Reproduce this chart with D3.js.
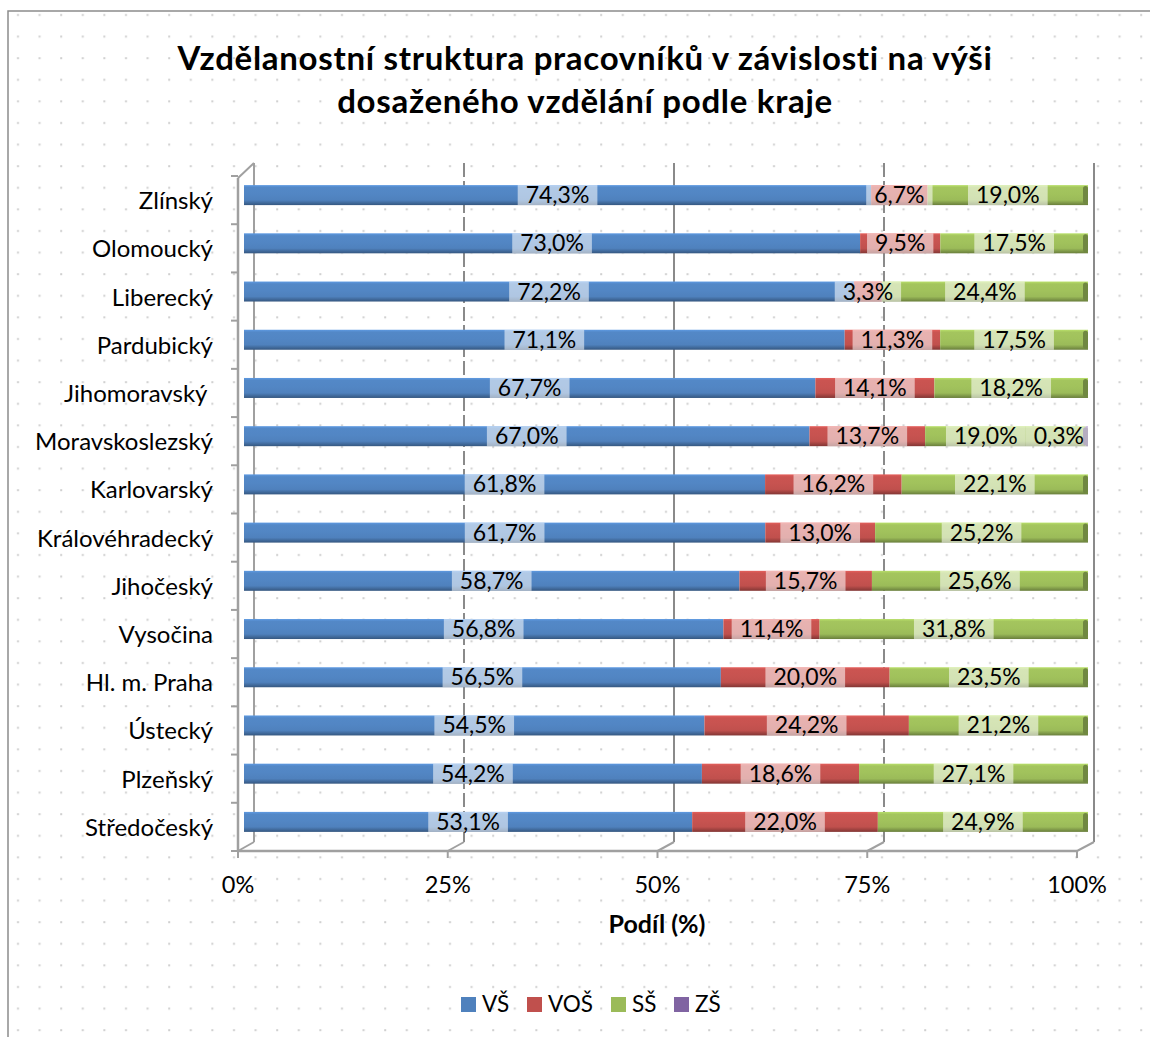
<!DOCTYPE html>
<html lang="cs">
<head>
<meta charset="utf-8">
<title>Vzdělanostní struktura pracovníků</title>
<script src="https://cdn.jsdelivr.net/npm/d3@7"></script>
<style>
    html, body { margin: 0; padding: 0; background: #fff; }
    svg { display: block; font-family: Lato, "Open Sans", sans-serif; }
</style>
</head>
<body>
<svg id="chart" width="1150" height="1037"></svg>
<script>
// ============================================================
// DATA
// ============================================================
const regions = [
    "Zlínský", "Olomoucký", "Liberecký", "Pardubický", "Jihomoravský ",
    "Moravskoslezský", "Karlovarský", "Královéhradecký", "Jihočeský",
    "Vysočina", "Hl. m. Praha", "Ústecký", "Plzeňský", "Středočeský"
];
const seriesNames = ["VŠ", "VOŠ", "SŠ", "ZŠ"];
const vs  = [74.3, 73.0, 72.2, 71.1, 67.7, 67.0, 61.8, 61.7, 58.7, 56.8, 56.5, 54.5, 54.2, 53.1];
const vos = [6.7, 9.5, 3.3, 11.3, 14.1, 13.7, 16.2, 13.0, 15.7, 11.4, 20.0, 24.2, 18.6, 22.0];
const ss  = [19.0, 17.5, 24.4, 17.5, 18.2, 19.0, 22.1, 25.2, 25.6, 31.8, 23.5, 21.2, 27.1, 24.9];
const zs  = [0, 0, 0, 0, 0, 0.3, 0, 0, 0, 0, 0, 0, 0, 0];
const xTicks = [0, 0.25, 0.5, 0.75, 1];

const colors = ["#4F81BD", "#C0504D", "#9BBB59", "#8064A2"];

const rows = regions.map((r, i) => ({ region: r, values: [vs[i], vos[i], ss[i], zs[i]] }));

// ============================================================
// SVG / POZADÍ
// ============================================================
const svg = d3.select("#chart");
const defs = svg.append("defs");

const dots = defs.append("pattern")
    .attr("id", "dots")
    .attr("patternUnits", "userSpaceOnUse")
    .attr("x", 7).attr("y", 4)
    .attr("width", 21.6).attr("height", 21.6);
dots.append("rect")
    .attr("x", 10).attr("y", 10)
    .attr("width", 2).attr("height", 2)
    .attr("fill", "#cfcfcf");

svg.append("rect")
    .attr("width", 1150).attr("height", 1037)
    .attr("fill", "#fff");
svg.append("rect")
    .attr("x", 8).attr("y", 11)
    .attr("width", 1200).attr("height", 1100)
    .attr("fill", "url(#dots)")
    .attr("stroke", "#8c8c8c")
    .attr("stroke-width", 1.5);

// gradienty pro "3D" válcové pruhy
colors.forEach((c, i) => {
    const g = defs.append("linearGradient")
        .attr("id", "grad" + i)
        .attr("x1", 0).attr("y1", 0).attr("x2", 0).attr("y2", 1);
    const base = d3.color(c);
    g.append("stop").attr("offset", "0%").attr("stop-color", base.brighter(0.5));
    g.append("stop").attr("offset", "12%").attr("stop-color", base.brighter(0.15));
    g.append("stop").attr("offset", "45%").attr("stop-color", base.brighter(0.1));
    g.append("stop").attr("offset", "75%").attr("stop-color", base);
    g.append("stop").attr("offset", "100%").attr("stop-color", base.darker(1.1));
});

// ============================================================
// ŠKÁLY
// ============================================================
const plotTop = 163;
const floorBack = 842;
const floorFront = 851;

const xFront = d3.scaleLinear().domain([0, 1]).range([238, 1077]);
const xBack = d3.scaleLinear().domain([0, 1]).range([254, 1094]);
const xBar = d3.scaleLinear().domain([0, 1]).range([244, 1088]);
const y = d3.scaleBand().domain(regions).range([176, floorFront]);

const barH = 20;
const barY = (d) => y(d) + y.bandwidth() / 2 - 5 - barH / 2;

// ============================================================
// STĚNY / MŘÍŽKA
// ============================================================
const gridColor = "#8a8a8a";
const axisColor = "#a0a0a0";
const grid = svg.append("g");

xTicks.forEach((t) => {
    const dashed = t === 0.25 || t === 0.75;
    if (t > 0) {
        grid.append("line")
            .attr("x1", xBack(t)).attr("x2", xBack(t))
            .attr("y1", plotTop).attr("y2", floorBack)
            .attr("stroke", gridColor)
            .attr("stroke-width", 2)
            .attr("stroke-dasharray", dashed ? "14,4" : null);
    }
    // diagonála na podlaze
    grid.append("line")
        .attr("x1", xBack(t)).attr("y1", floorBack)
        .attr("x2", xFront(t)).attr("y2", floorFront)
        .attr("stroke", axisColor)
        .attr("stroke-width", 2);
});

// levá stěna
grid.append("line")
    .attr("x1", xBack(0)).attr("x2", xBack(0))
    .attr("y1", plotTop).attr("y2", floorBack)
    .attr("stroke", axisColor).attr("stroke-width", 2);
grid.append("line")
    .attr("x1", xFront(0)).attr("y1", 178)
    .attr("x2", xBack(0)).attr("y2", plotTop)
    .attr("stroke", axisColor).attr("stroke-width", 2);
grid.append("line")
    .attr("x1", xFront(0)).attr("x2", xFront(0))
    .attr("y1", 178).attr("y2", floorFront)
    .attr("stroke", axisColor).attr("stroke-width", 2.5);

// přední osa x
grid.append("line")
    .attr("x1", xFront(0)).attr("x2", xFront(1))
    .attr("y1", floorFront).attr("y2", floorFront)
    .attr("stroke", axisColor).attr("stroke-width", 2.5);

grid.selectAll("line.xtick")
    .data(xTicks)
    .enter()
    .append("line")
    .attr("class", "xtick")
    .attr("x1", (d) => xFront(d)).attr("x2", (d) => xFront(d))
    .attr("y1", floorFront).attr("y2", floorFront + 7)
    .attr("stroke", axisColor).attr("stroke-width", 2);

// tiky osy y (hranice kategorií)
const yBounds = regions.map((r) => y(r)).concat([floorFront]);
grid.selectAll("line.ytick")
    .data(yBounds)
    .enter()
    .append("line")
    .attr("class", "ytick")
    .attr("x1", xFront(0) - 7).attr("x2", xFront(0))
    .attr("y1", (d) => d).attr("y2", (d) => d)
    .attr("stroke", axisColor).attr("stroke-width", 2);

// ============================================================
// PRUHY
// ============================================================
const segments = [];
rows.forEach((row) => {
    const total = d3.sum(row.values);
    let acc = 0;
    row.values.forEach((v, k) => {
        if (v <= 0) return;
        segments.push({ region: row.region, k, v, x0: acc / total, x1: (acc + v) / total });
        acc += v;
    });
});

const bars = svg.append("g");
bars.selectAll("rect.seg")
    .data(segments)
    .enter()
    .append("rect")
    .attr("class", "seg")
    .attr("x", (d) => xBar(d.x0))
    .attr("y", (d) => barY(d.region))
    .attr("width", (d) => Math.max(0.5, xBar(d.x1) - xBar(d.x0)))
    .attr("height", barH)
    .attr("fill", (d) => "url(#grad" + d.k + ")");

// zaoblený konec válce vpravo
rows.forEach((row) => {
    const last = row.values.reduce((a, v, k) => (v > 0 ? k : a), 0);
    bars.append("rect")
        .attr("x", xBar(1) - 5)
        .attr("y", barY(row.region) + 1)
        .attr("width", 5)
        .attr("height", barH - 2)
        .attr("rx", 2.5)
        .attr("fill", d3.color(colors[last]).darker(0.9));
});

// ============================================================
// POPISKY HODNOT
// ============================================================
const labels = svg.append("g")
    .attr("font-size", "23px")
    .attr("fill", "#000");
const pad = 8;

regions.forEach((region) => {
    const segs = segments.filter((s) => s.region === region);
    // změř texty a spočti středy
    const items = segs.map((d) => {
        const t = labels.append("text")
            .attr("text-anchor", "middle")
            .attr("y", barY(region) + barH / 2 + 8)
            .text(d.v.toFixed(1).replace(".", ",") + "%");
        const w = t.node().getComputedTextLength();
        return { t, w, cx: (xBar(d.x0) + xBar(d.x1)) / 2 };
    });
    // zprava doleva: drž popisky uvnitř grafu a bez překryvu
    let limit = xBar(1) + 4;
    for (let i = items.length - 1; i >= 0; i--) {
        const it = items[i];
        it.cx = Math.min(it.cx, limit - it.w / 2 - pad);
        limit = it.cx - it.w / 2 - pad;
    }
    items.forEach((it) => {
        it.t.attr("x", it.cx);
        labels.insert("rect", "text")
            .attr("x", it.cx - it.w / 2 - pad)
            .attr("y", barY(region))
            .attr("width", it.w + pad * 2)
            .attr("height", barH)
            .attr("fill", "#fff")
            .attr("fill-opacity", 0.55);
    });
});

// ============================================================
// TEXTY OS
// ============================================================
svg.append("g")
    .selectAll("text")
    .data(regions)
    .enter()
    .append("text")
    .attr("x", 213)
    .attr("y", (d) => y(d) + y.bandwidth() / 2 + 9)
    .attr("text-anchor", "end")
    .attr("font-size", "24px")
    .style("white-space", "pre")
    .text((d) => d);

svg.append("g")
    .selectAll("text")
    .data(xTicks)
    .enter()
    .append("text")
    .attr("x", (d) => xFront(d))
    .attr("y", 893)
    .attr("text-anchor", "middle")
    .attr("font-size", "23.5px")
    .text((d) => d3.format(".0%")(d));

svg.append("text")
    .attr("x", 657)
    .attr("y", 933)
    .attr("text-anchor", "middle")
    .attr("font-size", "25px")
    .attr("font-weight", "bold")
    .text("Podíl (%)");

// nadpis
const title = svg.append("text")
    .attr("text-anchor", "middle")
    .attr("font-size", "33px")
    .attr("letter-spacing", "0.7px")
    .attr("font-weight", "bold");
title.append("tspan").attr("x", 585).attr("y", 70)
    .text("Vzdělanostní struktura pracovníků v závislosti na výši");
title.append("tspan").attr("x", 585).attr("y", 113)
    .text("dosaženého vzdělání podle kraje");

// ============================================================
// LEGENDA
// ============================================================
const legendX = [461, 527, 611, 674];
const legend = svg.append("g")
    .selectAll("g")
    .data(seriesNames)
    .enter()
    .append("g")
    .attr("transform", (d, i) => `translate(${legendX[i]},997)`);
legend.append("rect")
    .attr("width", 15).attr("height", 15)
    .attr("fill", (d, i) => colors[i]);
legend.append("text")
    .attr("x", 21).attr("y", 15)
    .attr("font-size", "22.5px")
    .text((d) => d);
</script>
</body>
</html>
